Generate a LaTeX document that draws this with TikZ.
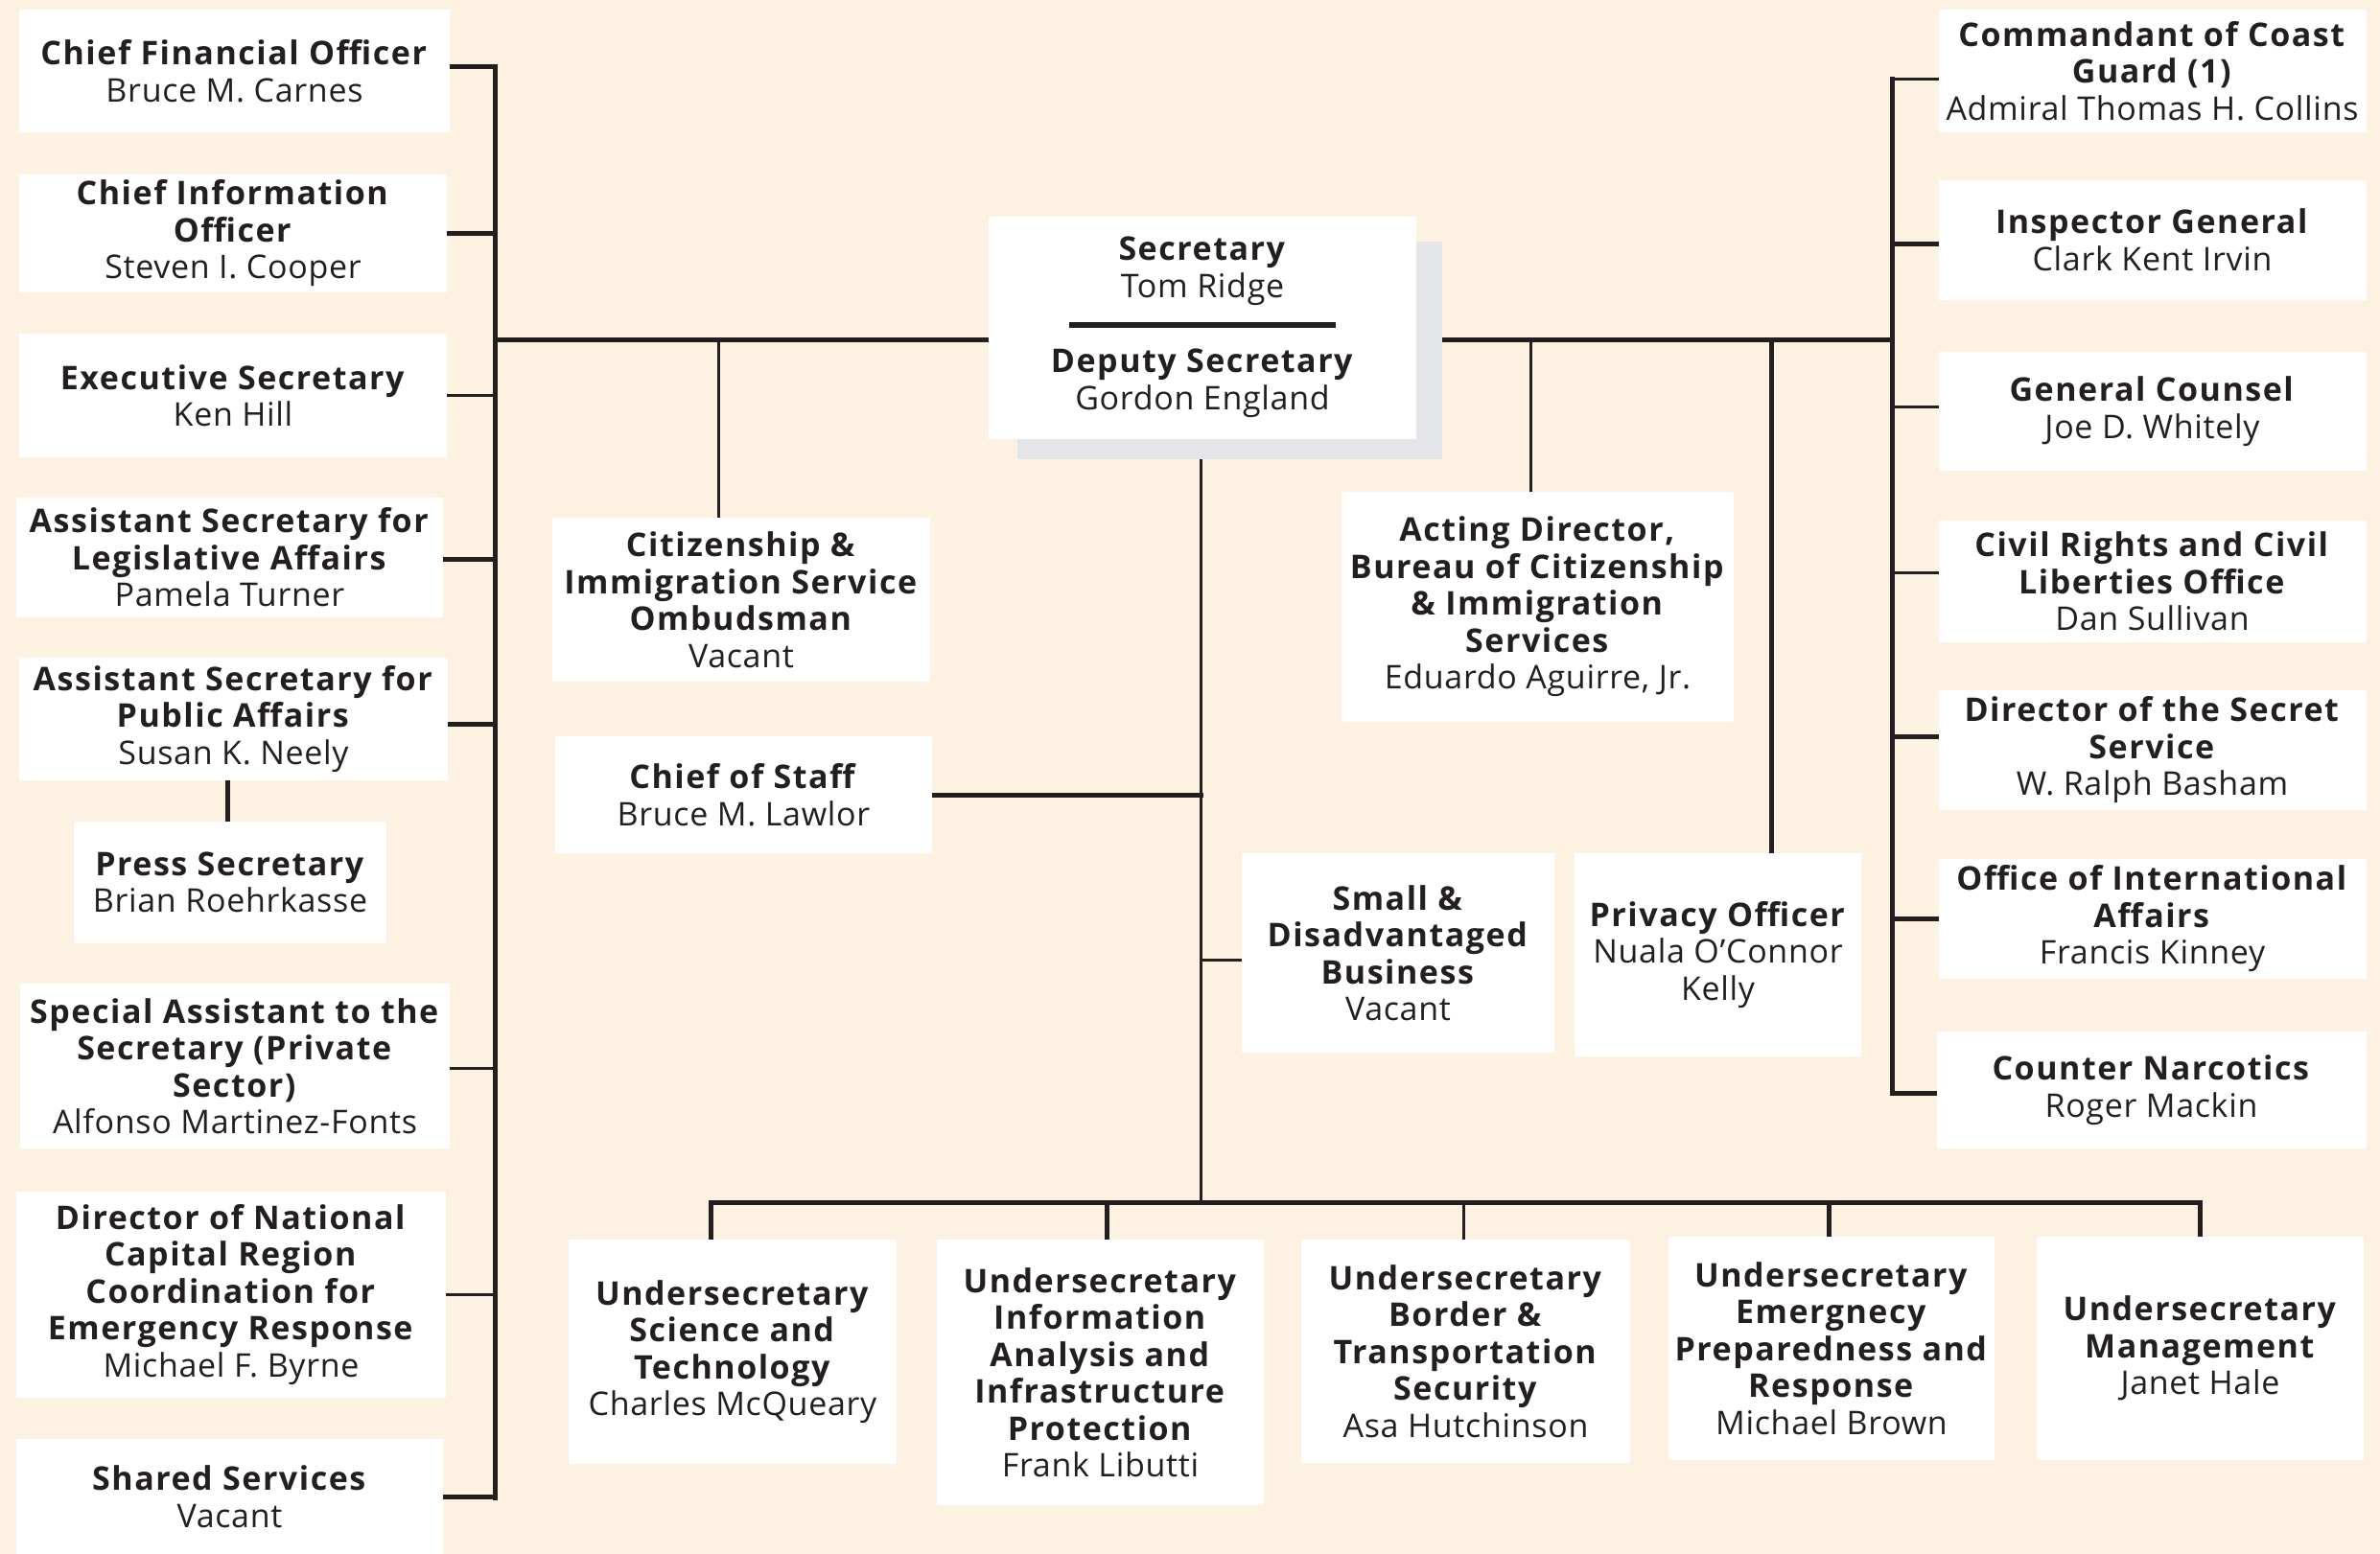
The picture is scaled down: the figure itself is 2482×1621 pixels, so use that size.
\documentclass[tikz,border=0pt]{standalone}
\usepackage{fontspec}
\setmainfont{Open Sans}[LetterSpace=2,BoldFeatures={LetterSpace=4.5}]
\usetikzlibrary{calc}
\definecolor{bgc}{RGB}{253,241,225}
\definecolor{shd}{RGB}{228,229,232}
\definecolor{ink}{RGB}{35,31,32}
\pgfdeclarelayer{bgl}\pgfdeclarelayer{edges}\pgfsetlayers{bgl,edges,main}
\tikzset{
  box/.style={fill=white, inner sep=0pt, align=center, text=ink,
    font=\fontsize{34}{38.5}\selectfont},
  shadowbox/.style={fill=shd, inner sep=0pt},
  thickline/.style={draw=ink, line width=5pt, line cap=rect},
  thinline/.style={draw=ink, line width=3pt, line cap=rect},
}
\newcommand{\orgbox}[6]{\node[box, minimum width=#4pt, minimum height=#5pt] (#1) at (#2,#3) {#6};}
\begin{document}
\begin{tikzpicture}[x=1pt,y=-1pt]
\begin{pgfonlayer}{bgl}
\fill[bgc] (0,0) rectangle (2482,1621);
\end{pgfonlayer}
\useasboundingbox (0,0) rectangle (2482,1621);

% ---------- left column ----------
\orgbox{cfo}{244.5}{74}{449}{128}{\textbf{Chief Financial Officer}\\Bruce M. Carnes}
\orgbox{cio}{243}{243.5}{446}{123}{\textbf{Chief Information}\\\textbf{Officer}\\Steven I. Cooper}
\orgbox{exs}{243}{412.5}{446}{129}{\textbf{Executive Secretary}\\Ken Hill}
\orgbox{asla}{239.5}{581.5}{445}{125}{\textbf{Assistant Secretary for}\\\textbf{Legislative Affairs}\\Pamela Turner}
\orgbox{aspa}{243.5}{750}{447}{128}{\textbf{Assistant Secretary for}\\\textbf{Public Affairs}\\Susan K. Neely}
\orgbox{press}{240}{920.5}{326}{127}{\textbf{Press Secretary}\\Brian Roehrkasse}
\orgbox{spec}{245}{1112}{448}{172}{\textbf{Special Assistant to the}\\\textbf{Secretary (Private}\\\textbf{Sector)}\\Alfonso Martinez-Fonts}
\orgbox{ncr}{241}{1350.5}{448}{215}{\textbf{Director of National}\\\textbf{Capital Region}\\\textbf{Coordination for}\\\textbf{Emergency Response}\\Michael F. Byrne}
\orgbox{shared}{239.5}{1561}{445}{120}{\textbf{Shared Services}\\Vacant}

% ---------- secretary ----------
\node[shadowbox, minimum width=443pt, minimum height=227pt] (secshadow) at (1282.5,365.5) {};
\node[box, minimum width=446pt, minimum height=232pt] (sec) at (1254,342) {};
\node[box, fill=none] (secA) at (1254,283) {\textbf{Secretary}\\Tom Ridge};
\node[box, fill=none] (secB) at (1254,400) {\textbf{Deputy Secretary}\\Gordon England};
\coordinate (divL) at (1115,339);
\coordinate (divR) at (1393,339);
\draw[ink, line width=6pt] (divL) -- (divR);

% ---------- middle ----------
\orgbox{omb}{773}{625.5}{394}{171}{\textbf{Citizenship \&}\\\textbf{Immigration Service}\\\textbf{Ombudsman}\\Vacant}
\orgbox{cos}{775.5}{829}{393}{122}{\textbf{Chief of Staff}\\Bruce M. Lawlor}
\orgbox{acting}{1603.5}{633}{409}{240}{\textbf{Acting Director,}\\\textbf{Bureau of Citizenship}\\\textbf{\& Immigration}\\\textbf{Services}\\Eduardo Aguirre, Jr.}
\orgbox{small}{1458}{994}{326}{208}{\textbf{Small \&}\\\textbf{Disadvantaged}\\\textbf{Business}\\Vacant}
\orgbox{priv}{1791.5}{996}{299}{212}{\textbf{Privacy Officer}\\Nuala O’Connor\\Kelly}

% ---------- right column ----------
\orgbox{cmd}{2244.5}{74}{446}{128}{\textbf{Commandant of Coast}\\\textbf{Guard (1)}\\Admiral Thomas H. Collins}
\orgbox{ig}{2244.5}{250.5}{446}{125}{\textbf{Inspector General}\\Clark Kent Irvin}
\orgbox{gc}{2244.5}{429}{446}{124}{\textbf{General Counsel}\\Joe D. Whitely}
\orgbox{civ}{2244.5}{606.5}{446}{127}{\textbf{Civil Rights and Civil}\\\textbf{Liberties Office}\\Dan Sullivan}
\orgbox{ss}{2244.5}{782.5}{446}{125}{\textbf{Director of the Secret}\\\textbf{Service}\\W. Ralph Basham}
\orgbox{intl}{2244.5}{958.5}{446}{125}{\textbf{Office of International}\\\textbf{Affairs}\\Francis Kinney}
\orgbox{cn}{2243.5}{1137}{448}{122}{\textbf{Counter Narcotics}\\Roger Mackin}

% ---------- bottom row ----------
\orgbox{ust}{764}{1410}{342}{234}{\textbf{Undersecretary}\\\textbf{Science and}\\\textbf{Technology}\\Charles McQueary}
\orgbox{iaip}{1147.5}{1431.5}{341}{277}{\textbf{Undersecretary}\\\textbf{Information}\\\textbf{Analysis and}\\\textbf{Infrastructure}\\\textbf{Protection}\\Frank Libutti}
\orgbox{bts}{1528.5}{1409.5}{343}{233}{\textbf{Undersecretary}\\\textbf{Border \&}\\\textbf{Transportation}\\\textbf{Security}\\Asa Hutchinson}
\orgbox{epr}{1910}{1406.5}{340}{233}{\textbf{Undersecretary}\\\textbf{Emergnecy}\\\textbf{Preparedness and}\\\textbf{Response}\\Michael Brown}
\orgbox{mgmt}{2294.5}{1406.5}{341}{233}{\textbf{Undersecretary}\\\textbf{Management}\\Janet Hale}

% ---------- connector coordinates ----------
\coordinate (lvt) at (516,70);
\coordinate (lvb) at (516,1562);
\coordinate (lv) at (516,354);
\coordinate (rvt) at (1973,83);
\coordinate (rvb) at (1973,1140);
\coordinate (rv) at (1973,354);
\coordinate (busL) at (741,1254);
\coordinate (busR) at (2294,1254);
\coordinate (busC) at (1252,1254);

\begin{pgfonlayer}{edges}
% left
\draw[thickline] (lvt) -- (lvb);
\draw[thickline] ([yshift=4pt]cfo.east) -- ([yshift=4pt]cfo.east -| lv);
\draw[thickline] (cio.east) -- (cio.east -| lv);
\draw[thinline] (exs.east) -- (exs.east -| lv);
\draw[thickline] ([yshift=-1.5pt]asla.east) -- ([yshift=-1.5pt]asla.east -| lv);
\draw[thickline] ([yshift=-5pt]aspa.east) -- ([yshift=-5pt]aspa.east -| lv);
\draw[thinline] ([yshift=-2pt]spec.east) -- ([yshift=-2pt]spec.east -| lv);
\draw[thinline] (ncr.east) -- (ncr.east -| lv);
\draw[thickline] (shared.east) -- (shared.east -| lv);
\draw[thickline] ([xshift=-3pt]press.north) -- ([xshift=-3pt]press.north |- aspa.south);
% main horizontal
\draw[thickline] (lv) -- (rv);
% right
\draw[thickline] (rvt) -- (rvb);
\draw[thinline] ([yshift=-9pt]cmd.west) -- ([yshift=-9pt]cmd.west -| rv);
\draw[thickline] ([yshift=-4.5pt]ig.west) -- ([yshift=-4.5pt]ig.west -| rv);
\draw[thinline] ([yshift=5pt]gc.west) -- ([yshift=5pt]gc.west -| rv);
\draw[thinline] ([yshift=9.5pt]civ.west) -- ([yshift=9.5pt]civ.west -| rv);
\draw[thickline] ([yshift=14.5pt]ss.west) -- ([yshift=14.5pt]ss.west -| rv);
\draw[thickline] (intl.west) -- (intl.west -| rv);
\draw[thickline] ([yshift=-3pt]cn.west) -- ([yshift=-3pt]cn.west -| rv);
% middle
\draw[thinline] ([xshift=-24pt]omb.north) -- ([xshift=-24pt]omb.north |- lv);
\draw[thinline] ([xshift=-2pt]sec.south) -- (busC);
\draw[thickline] (cos.east) -- (cos.east -| busC);
\draw[thinline] ([yshift=-7pt]small.west) -- ([yshift=-7pt]small.west -| busC);
\draw[thinline] ([xshift=-7.5pt]acting.north) -- ([xshift=-7.5pt]acting.north |- lv);
\draw[thickline] ([xshift=55.5pt]priv.north) -- ([xshift=55.5pt]priv.north |- lv);
% bus
\draw[thickline] (busL) -- (busR);
\draw[thickline] ([xshift=-23pt]ust.north) -- ([xshift=-23pt]ust.north |- busL);
\draw[thickline] ([xshift=6.5pt]iaip.north) -- ([xshift=6.5pt]iaip.north |- busL);
\draw[thinline] ([xshift=-2.5pt]bts.north) -- ([xshift=-2.5pt]bts.north |- busL);
\draw[thickline] ([xshift=-3pt]epr.north) -- ([xshift=-3pt]epr.north |- busL);
\draw[thickline] (mgmt.north) -- (mgmt.north |- busL);
\end{pgfonlayer}
\end{tikzpicture}
\end{document}
